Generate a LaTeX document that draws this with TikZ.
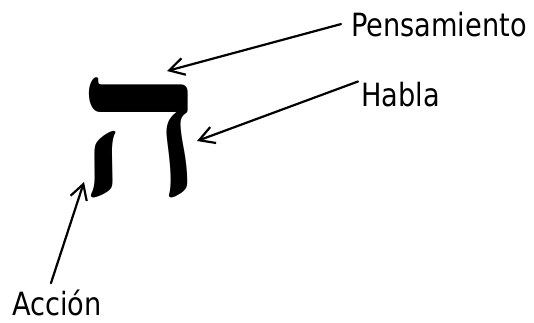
\documentclass[tikz,border=0pt]{standalone}
\usepackage{fontspec}
\setmainfont{DejaVu Sans}[FakeStretch=0.85]
\newfontfamily\hebfont[Script=Hebrew]{Liberation Serif}
\TeXXeTstate=1
\usetikzlibrary{arrows.meta,positioning}

\begin{document}
\begin{tikzpicture}[
		x=1pt, y=-1pt,
		line join=round,
		line cap=round,
		>={Straight Barb[length=15pt,width=17pt]},
		pointer/.style={->, line width=2.2pt},
		lab/.style={font=\fontsize{32}{36}\selectfont, inner sep=0pt, anchor=base west},
		letra/.style={font=\hebfont\bfseries\fontsize{200}{200}\selectfont, inner sep=0pt}
	]
	\useasboundingbox (0,0) rectangle (534,322);
	
	% Letter
	\node[letra] (he) at (141,137.5) {\scalebox{1.09}[1]{\beginR ה\endR}};
	
	% Labels
	\node[lab] (pens) at (351,36) {Pensamiento};
	\node[lab] (habla) at (361,106) {Habla};
	\node[lab] (accion) at (12,315) {Acción};
	
	% Arrow tips
	\coordinate (tipPens) at (167,71);
	\coordinate (tipHabla) at (197,141);
	\coordinate (tipAccion) at (84,182);
	
	% Pointers
	\draw[pointer] ([xshift=-10pt]pens.west) -- (tipPens);
	\draw[pointer] ([xshift=-3pt]habla.north west) -- (tipHabla);
	\draw[pointer] ([xshift=-6pt,yshift=6pt]accion.north) -- (tipAccion);
	
\end{tikzpicture}
\end{document}
